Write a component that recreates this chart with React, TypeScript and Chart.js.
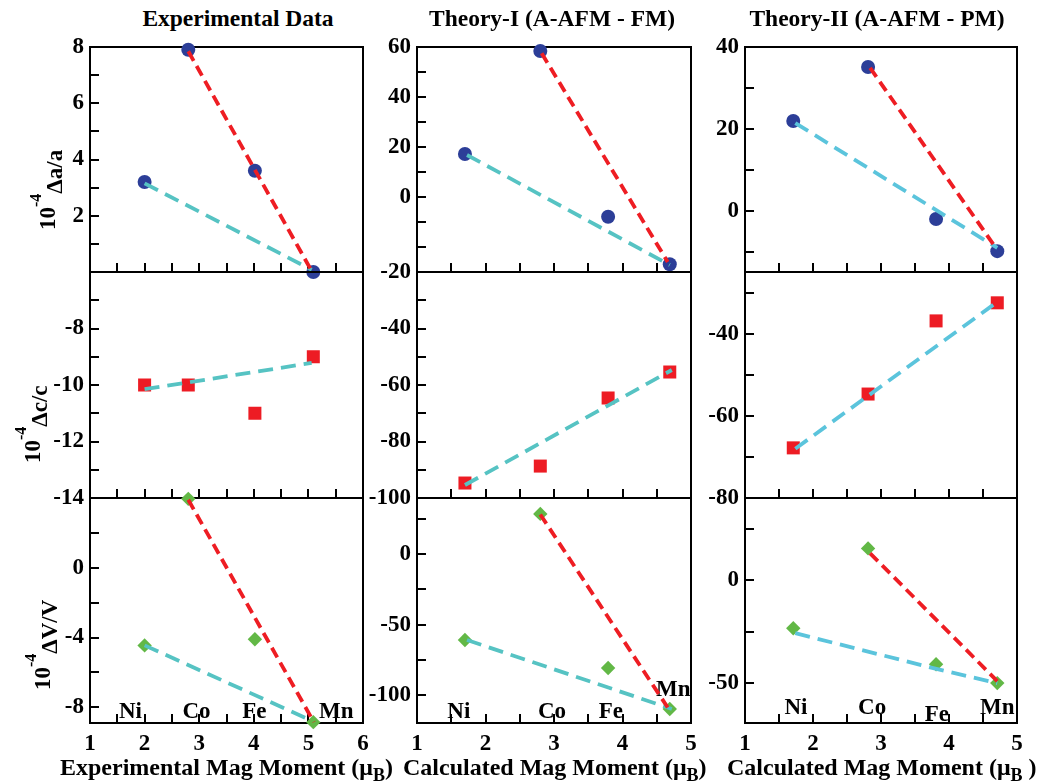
import React, { useEffect, useRef } from 'react';
import { Chart, registerables } from 'chart.js';

Chart.register(...registerables);

const FONT = '"Liberation Serif", "Times New Roman", serif';
Chart.defaults.font.family = 'Liberation Serif';
Chart.defaults.font.weight = 'bold' as any;
Chart.defaults.color = '#000';

// ---------------- data ----------------
const elements = ['Ni', 'Co', 'Fe', 'Mn'];

// Experimental
const expMoment = [2.0, 2.8, 4.02, 5.09];
const expDeltaA = [3.2, 7.9, 3.6, 0.0];
const expDeltaC = [-10, -10, -11, -9];
const expDeltaV = [-4.45, 3.95, -4.1, -8.85];
const expFitARedX = [2.8, 5.07];
const expFitARedY = [7.85, 0.0];
const expFitACyanX = [2.0, 5.06];
const expFitACyanY = [3.15, 0.08];
const expFitCCyanX = [2.0, 5.06];
const expFitCCyanY = [-10.15, -9.22];
const expFitVRedX = [2.8, 5.1];
const expFitVRedY = [3.9, -8.85];
const expFitVCyanX = [2.0, 5.05];
const expFitVCyanY = [-4.45, -8.75];
const expLabelX = [1.74, 2.95, 4.01, 5.51];
const expLabelY = [-8.3, -8.3, -8.3, -8.3];

// Theory-I (A-AFM - FM)
const th1Moment = [1.7, 2.8, 3.79, 4.69];
const th1DeltaA = [17.2, 58.4, -7.9, -26.9];
const th1DeltaC = [-94.7, -88.7, -64.6, -55.4];
const th1DeltaV = [-61, 28.7, -80.9, -110];
const th1FitARedX = [2.82, 4.66];
const th1FitARedY = [57.5, -26];
const th1FitACyanX = [1.73, 4.69];
const th1FitACyanY = [16.8, -27.2];
const th1FitCCyanX = [1.7, 4.72];
const th1FitCCyanY = [-95.4, -54.7];
const th1FitVRedX = [2.8, 4.66];
const th1FitVRedY = [28.3, -109];
const th1FitVCyanX = [1.73, 4.72];
const th1FitVCyanY = [-61, -110];
const th1LabelX = [1.61, 2.97, 3.83, 4.74];
const th1LabelY = [-112, -112, -112, -96.4];

// Theory-II (A-AFM - PM)
const th2Moment = [1.71, 2.81, 3.81, 4.71];
const th2DeltaA = [21.9, 35.1, -2.05, -9.9];
const th2DeltaC = [-67.8, -54.7, -36.9, -32.5];
const th2DeltaV = [-23.3, 15.5, -40.8, -50];
const th2FitARedX = [2.84, 4.68];
const th2FitARedY = [34.9, -8.9];
const th2FitACyanX = [1.74, 4.71];
const th2FitACyanY = [21.4, -9.1];
const th2FitCCyanX = [1.74, 4.65];
const th2FitCCyanY = [-68, -33];
const th2FitVRedX = [2.84, 4.71];
const th2FitVRedY = [13.1, -49];
const th2FitVCyanX = [1.74, 3.8, 4.71];
const th2FitVCyanY = [-25.7, -43, -50];
const th2LabelX = [1.75, 2.87, 3.82, 4.71];
const th2LabelY = [-62.1, -62.1, -65.5, -62.1];

// axis ranges / tick labels
const yRanges = [
  // [min, max, step]
  [[0, 8, 1], [-30, 60, 10], [-15, 40, 10]],
  [[-14, -6, 1], [-100, -20, 10], [-80, -25, 10]],
  [[-8.9, 4, 2], [-120, 40, 25], [-69.4, 40, 25]],
];
const yTickLabels = [
  [[2, 4, 6, 8], [0, 20, 40, 60], [0, 20, 40]],
  [[-8, -10, -12, -14], [-20, -40, -60, -80, -100], [-40, -60, -80]],
  [[0, -4, -8], [0, -50, -100], [0, -50]],
];
const xRanges = [[1, 6], [1, 5], [1, 5]];

const panelTitles = ['Experimental Data', 'Theory-I (A-AFM - FM)', 'Theory-II (A-AFM - PM)'];
const xTitles = ['Experimental Mag Moment (\u03bc', 'Calculated Mag Moment (\u03bc', 'Calculated Mag Moment (\u03bc'];
const xTitleEnds = [')', ')', ' )'];
const yQuantities = ['\u0394a/a', '\u0394c/c', '\u0394V/V'];

// ---------------- layout ----------------
const COLS = [
  { left: 90, width: 273 },
  { left: 417, width: 274 },
  { left: 745, width: 272 },
];
const ROWS = [
  { top: 47, height: 225 },
  { top: 272, height: 226 },
  { top: 498, height: 225 },
];
const AXW = 72;
const PAD = 16;
const XLAB = 40;

const BLUE = '#2c3e98';
const RED_SQ = '#ed1c24';
const GREEN = '#62b846';
const RED_LINE = '#ee1d23';
const CYAN = '#56c3c3';
const CYAN2 = '#5bc4dc';

type Fit = { x: number[]; y: number[] };
type Spec = {
  col: number;
  row: number;
  xs: number[];
  ys: number[];
  marker: string;
  color: string;
  radius: number;
  red?: Fit;
  cyan?: Fit;
  cyanColor: string;
  labels?: { x: number[]; y: number[] };
};

const specs: Spec[] = [
  { col: 0, row: 0, xs: expMoment, ys: expDeltaA, marker: 'circle', color: BLUE, radius: 7,
    red: { x: expFitARedX, y: expFitARedY }, cyan: { x: expFitACyanX, y: expFitACyanY }, cyanColor: CYAN },
  { col: 0, row: 1, xs: expMoment, ys: expDeltaC, marker: 'rect', color: RED_SQ, radius: 9.2,
    cyan: { x: expFitCCyanX, y: expFitCCyanY }, cyanColor: CYAN },
  { col: 0, row: 2, xs: expMoment, ys: expDeltaV, marker: 'rectRot', color: GREEN, radius: 7.2,
    red: { x: expFitVRedX, y: expFitVRedY }, cyan: { x: expFitVCyanX, y: expFitVCyanY }, cyanColor: CYAN,
    labels: { x: expLabelX, y: expLabelY } },
  { col: 1, row: 0, xs: th1Moment, ys: th1DeltaA, marker: 'circle', color: BLUE, radius: 7,
    red: { x: th1FitARedX, y: th1FitARedY }, cyan: { x: th1FitACyanX, y: th1FitACyanY }, cyanColor: CYAN },
  { col: 1, row: 1, xs: th1Moment, ys: th1DeltaC, marker: 'rect', color: RED_SQ, radius: 9.2,
    cyan: { x: th1FitCCyanX, y: th1FitCCyanY }, cyanColor: CYAN },
  { col: 1, row: 2, xs: th1Moment, ys: th1DeltaV, marker: 'rectRot', color: GREEN, radius: 7.2,
    red: { x: th1FitVRedX, y: th1FitVRedY }, cyan: { x: th1FitVCyanX, y: th1FitVCyanY }, cyanColor: CYAN,
    labels: { x: th1LabelX, y: th1LabelY } },
  { col: 2, row: 0, xs: th2Moment, ys: th2DeltaA, marker: 'circle', color: BLUE, radius: 7,
    red: { x: th2FitARedX, y: th2FitARedY }, cyan: { x: th2FitACyanX, y: th2FitACyanY }, cyanColor: CYAN2 },
  { col: 2, row: 1, xs: th2Moment, ys: th2DeltaC, marker: 'rect', color: RED_SQ, radius: 9.2,
    cyan: { x: th2FitCCyanX, y: th2FitCCyanY }, cyanColor: CYAN2 },
  { col: 2, row: 2, xs: th2Moment, ys: th2DeltaV, marker: 'rectRot', color: GREEN, radius: 7.2,
    red: { x: th2FitVRedX, y: th2FitVRedY }, cyan: { x: th2FitVCyanX, y: th2FitVCyanY }, cyanColor: CYAN2,
    labels: { x: th2LabelX, y: th2LabelY } },
];

const near = (v: number, arr: number[]) => arr.some((a) => Math.abs(a - v) < 1e-6);

const elementLabelPlugin = {
  id: 'elementLabels',
  beforeDatasetsDraw(chart: any, _args: any, opts: any) {
    if (!opts || !opts.x || !opts.x.length) return;
    const { ctx, scales } = chart;
    ctx.save();
    ctx.font = `bold 23px ${FONT}`;
    ctx.fillStyle = '#000';
    ctx.textAlign = 'center';
    ctx.textBaseline = 'middle';
    for (let i = 0; i < elements.length; i++) {
      ctx.fillText(elements[i], scales.x.getPixelForValue(opts.x[i]), scales.y.getPixelForValue(opts.y[i]));
    }
    ctx.restore();
  },
};

function Panel({ spec }: { spec: Spec }) {
  const ref = useRef<HTMLCanvasElement>(null);
  const { left, width } = COLS[spec.col];
  const { top, height } = ROWS[spec.row];
  const isBottom = spec.row === 2;
  const xh = isBottom ? XLAB : 0;
  const cw = AXW + width + PAD;
  const ch = PAD + height + PAD + xh;

  useEffect(() => {
    if (!ref.current) return;
    const [yMin, yMax, yStep] = yRanges[spec.row][spec.col];
    const yLabels = yTickLabels[spec.row][spec.col];
    const [xMin, xMax] = xRanges[spec.col];
    const tickFont = { family: 'Liberation Serif', size: 23, weight: 'bold', lineHeight: 1.2 };
    const grid = { display: true, drawOnChartArea: false, drawTicks: true, tickLength: -9, color: '#000', lineWidth: 2 };
    const frameGrid = { display: true, drawOnChartArea: false, drawTicks: false };
    const border = { display: true, color: '#000', width: 2 };
    const zeroPad = (s: any) => {
      s.paddingTop = 0;
      s.paddingBottom = 0;
      s.paddingLeft = 0;
      s.paddingRight = 0;
    };

    const lineDs = (fit: Fit, color: string, dash: number[]) => ({
      data: fit.x.map((x, i) => ({ x, y: fit.y[i] })),
      showLine: true,
      borderColor: color,
      borderWidth: 3.8,
      borderDash: dash,
      pointRadius: 0,
      pointHoverRadius: 0,
      fill: false,
      tension: 0,
      clip: false as const,
    });
    const datasets: any[] = [];
    if (spec.red) datasets.push(lineDs(spec.red, RED_LINE, [11, 6]));
    if (spec.cyan) datasets.push(lineDs(spec.cyan, spec.cyanColor, [15, 8]));
    datasets.push({
      data: spec.xs.map((x, i) => ({ x, y: spec.ys[i] })),
      showLine: false,
      pointStyle: spec.marker,
      pointRadius: spec.radius,
      pointHoverRadius: spec.radius,
      pointBackgroundColor: spec.color,
      pointBorderColor: spec.color,
      pointBorderWidth: 0,
      clip: false as const,
    });

    const chart = new Chart(ref.current, {
      type: 'scatter',
      data: { datasets },
      options: {
        animation: false,
        responsive: false,
        maintainAspectRatio: false,
        events: [],
        layout: { autoPadding: false, padding: { left: 0, top: PAD, right: PAD, bottom: PAD } },
        plugins: {
          legend: { display: false },
          tooltip: { enabled: false },
          elementLabels: spec.labels ? { x: spec.labels.x, y: spec.labels.y } : { x: [], y: [] },
        } as any,
        scales: {
          x: {
            type: 'linear',
            position: 'bottom',
            min: xMin,
            max: xMax,
            ticks: {
              display: isBottom,
              stepSize: 0.5,
              autoSkip: false,
              maxRotation: 0,
              includeBounds: false,
              padding: 16,
              color: '#000',
              font: tickFont,
              callback: (v: any) => (Math.abs(v - Math.round(v)) < 1e-6 ? String(Math.round(v)) : ''),
            },
            grid,
            border,
            afterFit: (s: any) => {
              s.height = xh;
              zeroPad(s);
            },
          },
          y: {
            type: 'linear',
            position: 'left',
            min: yMin,
            max: yMax,
            ticks: {
              stepSize: yStep,
              autoSkip: false,
              includeBounds: false,
              padding: 15,
              color: '#000',
              font: tickFont,
              callback: (v: any) => (near(v, yLabels) ? String(Math.round(v)) : ''),
            },
            grid,
            border,
            afterFit: (s: any) => {
              s.width = AXW;
              zeroPad(s);
            },
          },
          xTop: {
            type: 'linear',
            position: 'top',
            min: 0,
            max: 1,
            ticks: { display: false },
            grid: frameGrid,
            border,
            afterFit: (s: any) => {
              s.height = 0;
              zeroPad(s);
            },
          },
          yRight: {
            type: 'linear',
            position: 'right',
            min: 0,
            max: 1,
            ticks: { display: false },
            grid: frameGrid,
            border,
            afterFit: (s: any) => {
              s.width = 0;
              zeroPad(s);
            },
          },
        } as any,
      },
      plugins: [elementLabelPlugin as any],
    });
    return () => chart.destroy();
  }, [spec]);

  return (
    <canvas
      ref={ref}
      width={cw}
      height={ch}
      style={{ position: 'absolute', left: left - AXW, top: top - PAD, width: cw, height: ch }}
    />
  );
}

const textBase: React.CSSProperties = {
  position: 'absolute',
  fontFamily: FONT,
  fontWeight: 'bold',
  whiteSpace: 'nowrap',
  color: '#000',
};

const titleCenters = [238, 552, 877];
const xTitleLefts = [60, 403, 727];
const yTitleAnchors = [
  { x: 35.7, y: 230 },
  { x: 20.7, y: 463 },
  { x: 30.7, y: 690 },
];

export default function App() {
  return (
    <div
      style={{
        position: 'absolute',
        left: 0,
        top: 0,
        width: 1039,
        height: 781,
        overflow: 'hidden',
        background: '#fff',
      }}
    >
      {specs.map((s, i) => (
        <Panel key={i} spec={s} />
      ))}
      {panelTitles.map((t, i) => (
        <div
          key={'t' + i}
          style={{ ...textBase, left: titleCenters[i], top: 7, fontSize: 23.5, lineHeight: '23.5px', transform: 'translateX(-50%)' }}
        >
          {t}
        </div>
      ))}
      {xTitles.map((t, i) => (
        <div key={'x' + i} style={{ ...textBase, left: xTitleLefts[i], top: 755, fontSize: 24, lineHeight: '24px' }}>
          {t}
          <span style={{ fontSize: 18, position: 'relative', top: 6 }}>B</span>
          {xTitleEnds[i]}
        </div>
      ))}
      {yQuantities.map((q, i) => (
        <div
          key={'y' + i}
          style={{
            ...textBase,
            left: yTitleAnchors[i].x,
            top: yTitleAnchors[i].y,
            fontSize: 23,
            lineHeight: '23px',
            transformOrigin: '0 0',
            transform: 'rotate(-90deg)',
          }}
        >
          10
          <span style={{ fontSize: 16, position: 'relative', top: -14 }}>-4</span>
          <span style={{ position: 'relative', top: 7 }}>{q}</span>
        </div>
      ))}
    </div>
  );
}
